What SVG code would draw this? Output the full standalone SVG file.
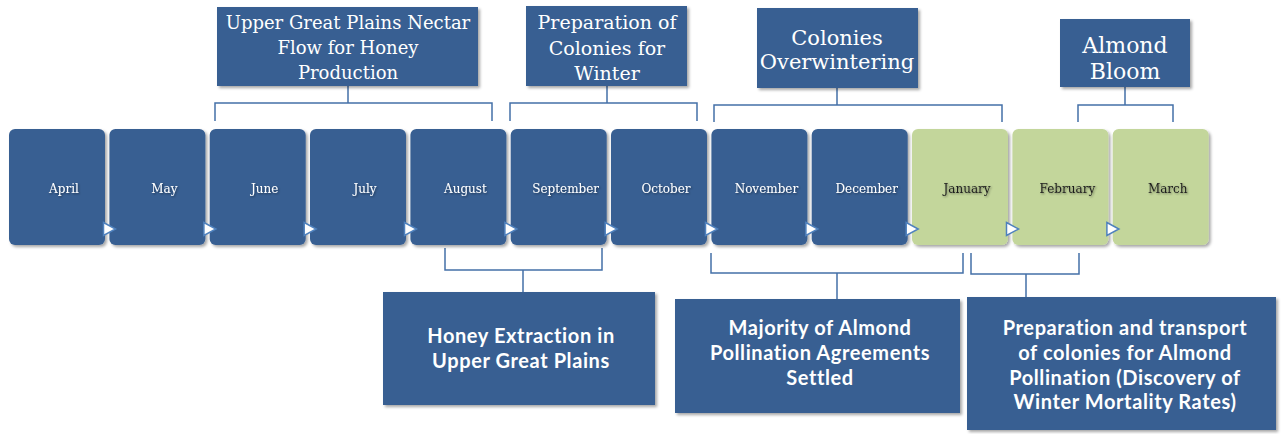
<svg xmlns="http://www.w3.org/2000/svg" width="1281" height="434" viewBox="0 0 1281 434">
<defs>
<filter id="sh" x="-10%" y="-10%" width="125%" height="125%">
<feDropShadow dx="2" dy="2" stdDeviation="1.5" flood-color="#000" flood-opacity="0.35"/>
</filter>
<filter id="ts" x="-10%" y="-30%" width="130%" height="160%">
<feDropShadow dx="1" dy="1" stdDeviation="1" flood-color="#000" flood-opacity="0.45"/>
</filter>
<polygon id="tri" points="0,-6.5 12,0 0,6.5"/>
</defs>
<style>
.mb{fill:#375f92;filter:url(#sh)}
.mg{fill:#c3d69b;filter:url(#sh)}
.mt{font-family:"DejaVu Serif","Liberation Serif",serif;font-size:12px;text-anchor:middle;filter:url(#ts)}
.w{fill:#ffffff}
.d{fill:#1e1e1e}
.tb{fill:#375f92;filter:url(#sh)}
.tt{font-family:"DejaVu Serif","Liberation Serif",serif;fill:#ffffff;text-anchor:middle}
.bt{font-family:Lato,"Open Sans",sans-serif;font-weight:bold;font-size:20px;letter-spacing:0.6px;fill:#ffffff;text-anchor:middle}
.ar{fill:#ffffff;stroke:#4f81bd;stroke-width:1.5;stroke-linejoin:miter}
.cn{fill:none;stroke:#4470a8;stroke-width:1.5}
</style>
<rect width="1281" height="434" fill="#ffffff"/>

<g id="connectors">
<path class="cn" d="M348,86V103M215,121V103H492V121"/>
<path class="cn" d="M607,86V103M510,121V103H697V121"/>
<path class="cn" d="M837,88V105M714,122V105H1002V122"/>
<path class="cn" d="M1125,87V105M1078,122V105H1173V122"/>
<path class="cn" d="M445,248V270H602V248M523,270V292"/>
<path class="cn" d="M711,253V273H963V253M837,273V299"/>
<path class="cn" d="M971,253V274H1079V253M1026,274V297"/>
</g>

<g id="m-april"><rect class="mb" x="9" y="129" width="96" height="116" rx="6"/><text class="mt w" x="64" y="193">April</text></g>
<g id="m-may"><rect class="mb" x="109.4" y="129" width="96" height="116" rx="6"/><text class="mt w" x="164.4" y="193">May</text></g>
<g id="m-june"><rect class="mb" x="209.7" y="129" width="96" height="116" rx="6"/><text class="mt w" x="264.7" y="193">June</text></g>
<g id="m-july"><rect class="mb" x="310" y="129" width="96" height="116" rx="6"/><text class="mt w" x="365" y="193">July</text></g>
<g id="m-august"><rect class="mb" x="410.4" y="129" width="96" height="116" rx="6"/><text class="mt w" x="465.4" y="193">August</text></g>
<g id="m-september"><rect class="mb" x="510.7" y="129" width="96" height="116" rx="6"/><text class="mt w" x="565.7" y="193">September</text></g>
<g id="m-october"><rect class="mb" x="611" y="129" width="96" height="116" rx="6"/><text class="mt w" x="666" y="193">October</text></g>
<g id="m-november"><rect class="mb" x="711.4" y="129" width="96" height="116" rx="6"/><text class="mt w" x="766.4" y="193">November</text></g>
<g id="m-december"><rect class="mb" x="811.7" y="129" width="96" height="116" rx="6"/><text class="mt w" x="866.7" y="193">December</text></g>
<g id="m-january"><rect class="mg" x="912" y="129" width="96" height="116" rx="6"/><text class="mt d" x="967" y="193">January</text></g>
<g id="m-february"><rect class="mg" x="1012.4" y="129" width="96" height="116" rx="6"/><text class="mt d" x="1067.4" y="193">February</text></g>
<g id="m-march"><rect class="mg" x="1112.7" y="129" width="96" height="116" rx="6"/><text class="mt d" x="1167.7" y="193">March</text></g>

<g id="arrows">
<use href="#tri" class="ar" x="103.5" y="229"/>
<use href="#tri" class="ar" x="203.9" y="229"/>
<use href="#tri" class="ar" x="304.2" y="229"/>
<use href="#tri" class="ar" x="404.5" y="229"/>
<use href="#tri" class="ar" x="504.9" y="229"/>
<use href="#tri" class="ar" x="605.2" y="229"/>
<use href="#tri" class="ar" x="705.5" y="229"/>
<use href="#tri" class="ar" x="805.9" y="229"/>
<use href="#tri" class="ar" x="906.2" y="229"/>
<use href="#tri" class="ar" x="1006.5" y="229"/>
<use href="#tri" class="ar" x="1106.9" y="229"/>
</g>

<g id="t-nectar"><rect class="tb" x="217" y="7" width="261" height="79"/>
<text class="tt" font-size="18" x="348"><tspan x="348" y="29">Upper Great Plains Nectar</tspan><tspan x="348" y="54">Flow for Honey</tspan><tspan x="348" y="79">Production</tspan></text></g>
<g id="t-prep"><rect class="tb" x="526" y="6" width="161" height="80"/>
<text class="tt" font-size="19" x="607"><tspan x="607" y="29">Preparation of</tspan><tspan x="607" y="55">Colonies for</tspan><tspan x="607" y="80">Winter</tspan></text></g>
<g id="t-over"><rect class="tb" x="757" y="8" width="161" height="80"/>
<text class="tt" font-size="21" x="837"><tspan x="837" y="45">Colonies</tspan><tspan x="837" y="69">Overwintering</tspan></text></g>
<g id="t-bloom"><rect class="tb" x="1060" y="19" width="130" height="68"/>
<text class="tt" font-size="22" x="1125"><tspan x="1125" y="53">Almond</tspan><tspan x="1125" y="79">Bloom</tspan></text></g>

<g id="b-honey"><rect class="tb" x="383" y="292" width="272" height="113"/>
<text class="bt" x="521"><tspan x="521" y="343">Honey Extraction in</tspan><tspan x="521" y="368">Upper Great Plains</tspan></text></g>
<g id="b-agree"><rect class="tb" x="675" y="299" width="285" height="114"/>
<text class="bt" x="820"><tspan x="820" y="335">Majority of Almond</tspan><tspan x="820" y="360">Pollination Agreements</tspan><tspan x="820" y="385">Settled</tspan></text></g>
<g id="b-transport"><rect class="tb" x="967" y="297" width="309" height="133"/>
<text class="bt" x="1125"><tspan x="1125" y="335">Preparation and transport</tspan><tspan x="1125" y="360">of colonies for Almond</tspan><tspan x="1125" y="385">Pollination (Discovery of</tspan><tspan x="1125" y="409">Winter Mortality Rates)</tspan></text></g>
</svg>
